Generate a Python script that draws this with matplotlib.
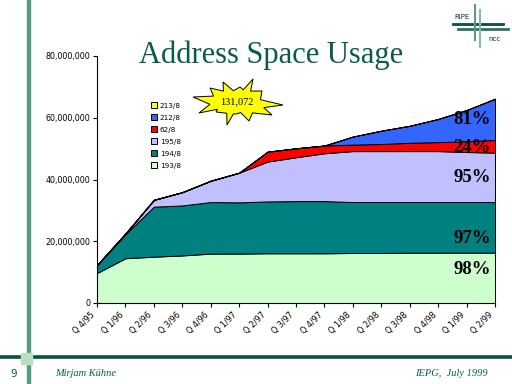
import matplotlib.pyplot as plt
import numpy as np
from matplotlib.patches import Polygon, Rectangle
from matplotlib.lines import Line2D
from matplotlib.ticker import FuncFormatter
from matplotlib.transforms import ScaledTranslation

quarters = ["Q 4/95", "Q 1/96", "Q 2/96", "Q 3/96", "Q 4/96", "Q 1/97", "Q 2/97",
            "Q 3/97", "Q 4/97", "Q 1/98", "Q 2/98", "Q 3/98", "Q 4/98", "Q 1/99", "Q 2/99"]
blocks = ["193/8", "194/8", "195/8", "62/8", "212/8", "213/8"]
colors = ["#ccffcc", "#008080", "#c0c0ff", "#ff0000", "#3366ff", "#ffff00"]

# allocated addresses per block, millions
net193 = [9.7, 14.5, 15.0, 15.4, 16.0, 16.0, 16.1, 16.1, 16.1, 16.2, 16.2, 16.3, 16.3, 16.3, 16.3]
net194 = [2.6, 7.8, 16.2, 16.2, 16.7, 16.6, 16.8, 16.9, 16.9, 16.5, 16.5, 16.4, 16.4, 16.4, 16.4]
net195 = [0.0, 0.2, 2.2, 4.3, 6.9, 9.6, 12.9, 14.2, 15.5, 16.5, 16.5, 16.5, 16.5, 16.2, 16.0]
net62 = [0, 0, 0, 0, 0, 0, 3.2, 2.9, 2.5, 2.1, 2.3, 2.7, 2.9, 3.5, 4.1]
net212 = [0, 0, 0, 0, 0, 0, 0, 0, 0, 2.6, 4.3, 5.5, 7.5, 10.1, 13.3]
net213 = [0, 0, 0, 0, 0, 0, 0, 0, 0, 0, 0, 0, 0, 0, 0.131072]

usage = ["98%", "97%", "95%", "24%", "81%"]
usage_y = [10.7, 21.0, 40.5, 50.5, 59.3]

green = "#0a5a4a"
W, H = 512, 384


def px(x, y):
    return x / W, 1 - y / H


fig = plt.figure(figsize=(5.12, 3.84), dpi=100)

# slide decoration
fig.add_artist(Line2D([28.5 / W] * 2, [0, 1], color="#5a9a82", lw=3.2))
fig.add_artist(Line2D([0, 1], [1 - 357 / H] * 2, color="#0a5040", lw=2.6))
sq = Rectangle(px(21, 364), 11 / W, 11 / H, color="#b8e0c0", zorder=5)
fig.add_artist(sq)
fig.text(*px(10, 374), "9", fontsize=7.5, color=green, va="center")
fig.text(*px(55, 374), "Mirjam Kühne", fontsize=7.5, color=green, va="center",
         family="Liberation Serif", style="italic")
fig.text(*px(488, 374), "IEPG,  July 1999", fontsize=7.5, color=green, va="center",
         ha="right", family="Liberation Serif", style="italic")

# RIPE NCC logo
fig.add_artist(Line2D([453 / W, 503 / W], [1 - 24 / H] * 2, color="#0a5040", lw=2))
fig.add_artist(Line2D([458 / W, 508 / W], [1 - 29 / H] * 2, color="#2a7060", lw=2))
fig.add_artist(Line2D([475 / W] * 2, [1 - 5 / H, 1 - 40 / H], color="#5a9a82", lw=1.5))
fig.add_artist(Line2D([480 / W] * 2, [1 - 10 / H, 1 - 47 / H], color="#8ab8a0", lw=1.5))
fig.text(*px(454, 17), "RIPE", fontsize=5, color="#0a3030", va="center")
fig.text(*px(488, 39), "ncc", fontsize=5, color="#0a3030", va="center")

fig.text(*px(271, 55), "Address Space Usage", fontsize=22, color=green,
         family="Liberation Serif", ha="center", va="center")

ax = fig.add_axes([97 / W, 1 - 303 / H, 398 / W, 247 / H])
x = np.arange(len(quarters))
ax.stackplot(x, net193, net194, net195, net62, net212, net213, colors=colors,
             labels=blocks, edgecolor="black", linewidth=0.7)
ax.set_xlim(0, len(quarters) - 1)
ax.set_ylim(0, 80)
ax.set_yticks([0, 20, 40, 60, 80])
ax.yaxis.set_major_formatter(FuncFormatter(lambda v, p: f"{v * 1e6:,.0f}"))
ax.set_xticks(x)
ax.set_xticklabels(quarters, rotation=45, ha="right", va="top")
shift = ScaledTranslation(-7 / 100, -3 / 100, fig.dpi_scale_trans)
for lab in ax.get_xticklabels():
    lab.set_transform(lab.get_transform() + shift)
ax.tick_params(labelsize=5.8, length=3, width=0.8, pad=2)
for s in ["top", "right"]:
    ax.spines[s].set_visible(False)
ax.set_facecolor("none")

for t, yv in zip(usage, usage_y):
    ax.text(13.85, yv, t, fontsize=13.5, fontweight="bold", family="Liberation Serif",
            ha="right", va="center")

h, l = ax.get_legend_handles_labels()
ax.legend(h[::-1], l[::-1], loc="upper left", bbox_to_anchor=px(144, 96),
          bbox_transform=fig.transFigure, frameon=False, fontsize=5.2,
          handlelength=0.9, handleheight=0.9, handletextpad=0.4, labelspacing=0.75)

# starburst
cx, cy = 237, 103
tips = [(193, 97), (210, 88), (223, 82), (240, 87), (253, 79), (262, 91), (283, 105),
        (272, 115), (249, 121), (236, 114), (227, 125), (216, 112), (199, 113)]
pts = []
for i, (tx, ty) in enumerate(tips):
    nx, ny = tips[(i + 1) % len(tips)]
    pts.append(px(tx, ty))
    mx, my = (tx + nx) / 2, (ty + ny) / 2
    pts.append(px(cx + 0.66 * (mx - cx), cy + 0.66 * (my - cy)))
fig.add_artist(Polygon(pts, closed=True, facecolor="#ffff00", edgecolor="black",
                       lw=0.7, transform=fig.transFigure))
fig.text(*px(237, 102), "131,072", fontsize=7.5, family="Liberation Serif",
         ha="center", va="center")

fig.savefig("out.png", dpi=100)
